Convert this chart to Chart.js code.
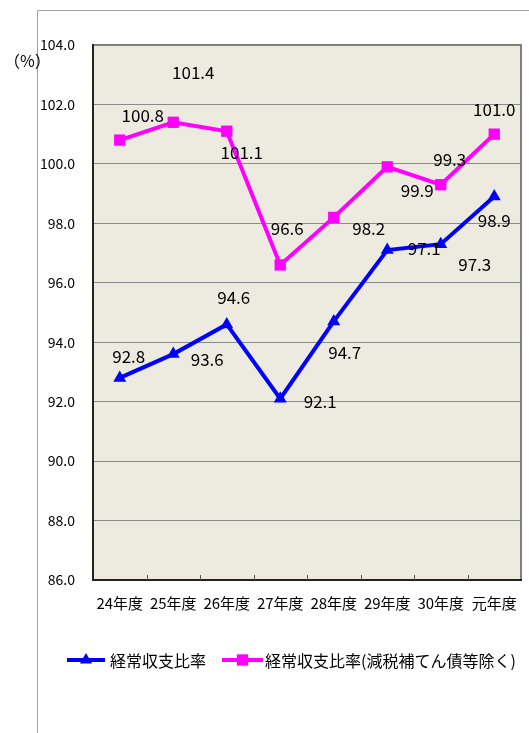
<!DOCTYPE html>
<html>
<head>
<meta charset="utf-8">
<script src="https://cdn.jsdelivr.net/npm/chart.js@4.4.0/dist/chart.umd.min.js"></script>
<style>
  body { margin: 0; background: #fff; }
  canvas { display: block; }
</style>
</head>
<body>
<canvas id="grafico" width="529" height="733"></canvas>
<script>
// dati
const anni = ["24年度", "25年度", "26年度", "27年度", "28年度", "29年度", "30年度", "元年度"];
const rapporto = [92.8, 93.6, 94.6, 92.1, 94.7, 97.1, 97.3, 98.9];
const rapportoEscluso = [100.8, 101.4, 101.1, 96.6, 98.2, 99.9, 99.3, 101.0];
const nomiSerie = ["経常収支比率", "経常収支比率(減税補てん債等除く)"];
const yMin = 86, yMax = 104, yPasso = 2;

// spostamento delle etichette rispetto al punto (px)
const spostBlu = [[9, -21], [34, 5], [7, -27], [40, 3], [11, 31], [37, -2], [34, 20], [0, 24]];
const spostRosa = [[23, -25], [20, -50], [15, 21], [7, -36], [35, 11], [30, 24], [9, -25], [0, -25]];

const FONT = "'Noto Sans CJK JP', 'Noto Sans', sans-serif";

const decorazioni = {
  id: "decorazioni",
  beforeDraw(chart) {
    const { ctx, chartArea: a } = chart;
    ctx.save();
    // cornice esterna
    ctx.strokeStyle = "#a0a0a0";
    ctx.lineWidth = 1;
    ctx.beginPath();
    ctx.moveTo(529, 10.5);
    ctx.lineTo(37.5, 10.5);
    ctx.lineTo(37.5, 733);
    ctx.stroke();
    // sfondo area grafico
    ctx.fillStyle = "#edeae0";
    ctx.fillRect(a.left, a.top, a.right - a.left, a.bottom - a.top);
    ctx.restore();
  },
  afterDraw(chart) {
    const { ctx, chartArea: a } = chart;
    const x = chart.scales.x;
    ctx.save();
    // bordi
    ctx.lineWidth = 2;
    ctx.strokeStyle = "#808080";
    ctx.beginPath();
    ctx.moveTo(a.left, a.top);
    ctx.lineTo(a.right, a.top);
    ctx.lineTo(a.right, a.bottom);
    ctx.stroke();
    ctx.strokeStyle = "#222";
    ctx.beginPath();
    ctx.moveTo(a.left, a.top - 1);
    ctx.lineTo(a.left, a.bottom);
    ctx.lineTo(a.right + 1, a.bottom);
    ctx.stroke();
    // tacche asse x
    ctx.lineWidth = 1;
    ctx.strokeStyle = "#555";
    for (let i = 1; i < anni.length; i++) {
      const px = Math.round((x.getPixelForValue(i - 1) + x.getPixelForValue(i)) / 2) + 0.5;
      ctx.beginPath();
      ctx.moveTo(px, a.bottom);
      ctx.lineTo(px, a.bottom - 5);
      ctx.stroke();
    }
    // unità
    ctx.fillStyle = "#000";
    ctx.font = "16px " + FONT;
    ctx.textAlign = "left";
    ctx.textBaseline = "middle";
    ctx.fillText("（%）", 4, 61);
    // legenda
    const ly = 660;
    const voci = [
      { x1: 67, x2: 105, col: "#0000ff", stile: "triangle", r: 7, tx: 110, testo: nomiSerie[0] },
      { x1: 222, x2: 263, col: "#ff00ff", stile: "rect", r: 8, tx: 265, testo: nomiSerie[1] }
    ];
    voci.forEach(v => {
      ctx.strokeStyle = v.col;
      ctx.lineWidth = 4;
      ctx.beginPath();
      ctx.moveTo(v.x1, ly);
      ctx.lineTo(v.x2, ly);
      ctx.stroke();
      ctx.fillStyle = v.col;
      Chart.helpers.drawPoint(ctx, { pointStyle: v.stile, radius: v.r, borderWidth: 0 }, (v.x1 + v.x2) / 2, ly);
      ctx.fillStyle = "#000";
      ctx.font = "16px " + FONT;
      ctx.fillText(v.testo, v.tx, ly + 1);
    });
    ctx.restore();
  },
  afterDatasetsDraw(chart) {
    const { ctx } = chart;
    ctx.save();
    ctx.fillStyle = "#000";
    ctx.font = "17px " + FONT;
    ctx.textAlign = "center";
    ctx.textBaseline = "middle";
    const sposts = [spostBlu, spostRosa];
    chart.data.datasets.forEach((ds, d) => {
      chart.getDatasetMeta(d).data.forEach((p, i) => {
        const [dx, dy] = sposts[d][i];
        ctx.fillText(ds.data[i].toFixed(1), p.x + dx, p.y + dy);
      });
    });
    ctx.restore();
  }
};

new Chart(document.getElementById("grafico"), {
  type: "line",
  data: {
    labels: anni,
    datasets: [
      {
        label: nomiSerie[0],
        data: rapporto,
        borderColor: "#0000ff",
        backgroundColor: "#0000ff",
        borderWidth: 4,
        pointStyle: "triangle",
        pointRadius: 7.5,
        pointBorderWidth: 0,
        tension: 0
      },
      {
        label: nomiSerie[1],
        data: rapportoEscluso,
        borderColor: "#ff00ff",
        backgroundColor: "#ff00ff",
        borderWidth: 4,
        pointStyle: "rect",
        pointRadius: 8,
        pointBorderWidth: 0,
        tension: 0
      }
    ]
  },
  options: {
    responsive: false,
    animation: false,
    layout: { padding: { top: 45, right: 5, bottom: 0, left: 0 } },
    plugins: {
      legend: { display: false },
      tooltip: { enabled: false }
    },
    scales: {
      x: {
        offset: true,
        grid: { display: false },
        border: { display: false },
        ticks: { color: "#000", font: { family: FONT, size: 15 }, padding: 6, maxRotation: 0 },
        afterFit(s) { s.height = 153; }
      },
      y: {
        min: yMin,
        max: yMax,
        grid: { color: "#8a8a8a", borderDash: [1, 1], drawTicks: false },
        border: { display: false },
        ticks: {
          stepSize: yPasso,
          color: "#000",
          font: { family: FONT, size: 14 },
          padding: 18,
          callback: v => v.toFixed(1)
        },
        afterFit(s) { s.width = 93; }
      }
    }
  },
  plugins: [decorazioni]
});
</script>
</body>
</html>
